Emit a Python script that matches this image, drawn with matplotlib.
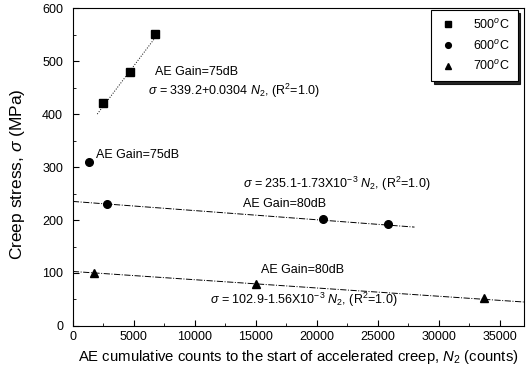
import numpy as np
import matplotlib
matplotlib.use('Agg')
import matplotlib.pyplot as plt
from matplotlib.ticker import MultipleLocator

plt.rcParams['font.family'] = 'Liberation Sans'
plt.rcParams['mathtext.fontset'] = 'custom'
plt.rcParams['mathtext.rm'] = 'Liberation Sans'
plt.rcParams['mathtext.it'] = 'Liberation Sans:italic'

# counts N2 and creep stress for each test temperature
n2_500 = [2450, 4700, 6700]
stress_500 = [420, 480, 552]
n2_600 = [1300, 2800, 20500, 25800]
stress_600 = [310, 230, 202, 192]
n2_700 = [1700, 15000, 33700]
stress_700 = [100, 80, 52]

# linear fits: sigma = a + b*N2, over the drawn range
fit_500 = (339.2, 0.0304, 2000, 7000)
fit_600 = (235.1, -1.73e-3, 0, 28000)
fit_700 = (102.9, -1.56e-3, 0, 37000)

fig = plt.figure(figsize=(5.28, 3.70), dpi=100)
ax = fig.add_axes([0.138, 0.119, 0.855, 0.859])

ax.plot(n2_500, stress_500, 's', color='black', ms=5.5, label='500$^o$C')
ax.plot(n2_600, stress_600, 'o', color='black', ms=5.5, label='600$^o$C')
ax.plot(n2_700, stress_700, '^', color='black', ms=5.5, label='700$^o$C')

def draw_fit(fit, ls):
    a, b, x0, x1 = fit
    xs = np.array([x0, x1])
    ax.plot(xs, a + b * xs, ls, color='black', lw=0.7)

draw_fit(fit_500, ':')
draw_fit(fit_600, '-.')
draw_fit(fit_700, '-.')

fs = 9
ax.text(6700, 479, 'AE Gain=75dB', fontsize=fs, va='center')
ax.text(6150, 443, r'$\sigma$ = 339.2+0.0304 $N_2$, (R$^2$=1.0)', fontsize=fs, va='center')
ax.text(1890, 323, 'AE Gain=75dB', fontsize=fs, va='center')
ax.text(13950, 268, r'$\sigma$ = 235.1-1.73X10$^{-3}$ $N_2$, (R$^2$=1.0)', fontsize=fs, va='center')
ax.text(13950, 230, 'AE Gain=80dB', fontsize=fs, va='center')
ax.text(15400, 106, 'AE Gain=80dB', fontsize=fs, va='center')
ax.text(11240, 49, r'$\sigma$ = 102.9-1.56X10$^{-3}$ $N_2$, (R$^2$=1.0)', fontsize=fs, va='center')

ax.set_xlim(0, 37000)
ax.set_ylim(0, 600)
ax.xaxis.set_major_locator(MultipleLocator(5000))
ax.xaxis.set_minor_locator(MultipleLocator(2500))
ax.yaxis.set_major_locator(MultipleLocator(100))
ax.yaxis.set_minor_locator(MultipleLocator(50))
ax.tick_params(which='both', direction='in', labelsize=9)
ax.tick_params(which='major', length=4)
ax.tick_params(which='minor', length=2)
ax.tick_params(axis='y', pad=7)

ax.set_xlabel('AE cumulative counts to the start of accelerated creep, $N_2$ (counts)', fontsize=10.7)
ax.set_ylabel(r'Creep stress, $\sigma$ (MPa)', fontsize=12.5)
ax.yaxis.set_label_coords(-0.102, 0.478)

leg = ax.legend(loc='upper right', bbox_to_anchor=(0.985, 0.994), borderaxespad=0,
                fontsize=9, frameon=True, fancybox=False, markerscale=0.75,
                shadow={'color': 'black', 'alpha': 0.85}, edgecolor='black',
                handletextpad=1.3, borderpad=0.6, labelspacing=0.55, handlelength=1.5)
leg.get_frame().set_linewidth(0.8)

fig.savefig('out.png', dpi=100)
